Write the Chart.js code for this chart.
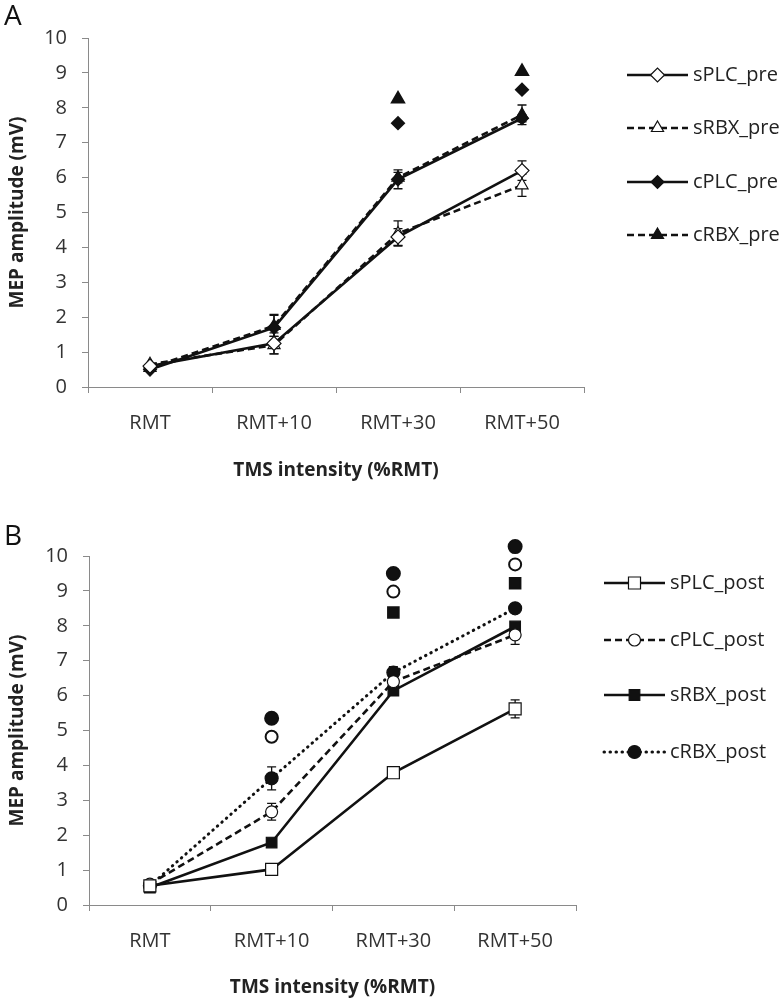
<!DOCTYPE html>
<html>
<head>
<meta charset="utf-8">
<script src="https://cdn.jsdelivr.net/npm/chart.js@4.4.1/dist/chart.umd.min.js"></script>
<style>
  body { margin: 0; background: #fff; width: 784px; height: 1003px; position: relative; overflow: hidden; font-family: "Open Sans", sans-serif; }
  .panel { position: absolute; left: 0; width: 784px; }
  #wrapA { top: 0; height: 500px; }
  #wrapB { top: 500px; height: 503px; }
  .tag { position: absolute; left: 4px; font-size: 28px; line-height: 1; color: #111; }
</style>
</head>
<body>
<div class="panel" id="wrapA">
  <div class="tag" style="top:0">A</div>
  <canvas id="chartA" width="784" height="500"></canvas>
</div>
<div class="panel" id="wrapB">
  <div class="tag" style="top:20px">B</div>
  <canvas id="chartB" width="784" height="503"></canvas>
</div>
<script>
// categories / ticks
const categories = ["RMT", "RMT+10", "RMT+30", "RMT+50"];
const yMin = 0, yMax = 10, yStep = 1;

// panel A - pre
const sPLC_pre = [0.6, 1.25, 4.3, 6.2];
const sPLC_pre_err = [0, 0.3, 0.24, 0.28];
const sRBX_pre = [0.65, 1.2, 4.4, 5.78];
const sRBX_pre_err = [0, 0.25, 0.36, 0.32];
const cPLC_pre = [0.5, 1.7, 5.95, 7.7];
const cPLC_pre_err = [0, 0.38, 0.27, 0.1];
const cRBX_pre = [0.55, 1.75, 6.0, 7.8];
const cRBX_pre_err = [0, 0.3, 0.15, 0.28];
// extra single markers in A
const cRBX_pre_marks = [null, null, 8.25, 9.04];
const cPLC_pre_marks = [null, null, 7.56, 8.52];

// panel B - post
const sPLC_post = [0.55, 1.02, 3.79, 5.62];
const sPLC_post_err = [0, 0, 0, 0.26];
const cPLC_post = [0.6, 2.67, 6.4, 7.74];
const cPLC_post_err = [0, 0.24, 0, 0.27];
const sRBX_post = [0.5, 1.79, 6.14, 7.98];
const sRBX_post_err = [0, 0, 0, 0];
const cRBX_post = [0.55, 3.63, 6.66, 8.5];
const cRBX_post_err = [0, 0.33, 0.17, 0];
// extra single markers in B
const cRBX_post_marks = [null, 5.35, 9.5, 10.27];
const cPLC_post_marks = [null, 4.82, 8.98, 9.76];
const sRBX_post_marks = [null, null, 8.38, 9.22];

const INK = "#111";

// error bars drawn under the markers
const errorBars = {
  id: "errorBars",
  beforeDatasetsDraw(chart) {
    const { ctx, scales: { x, y } } = chart;
    ctx.save();
    ctx.strokeStyle = INK;
    ctx.lineWidth = 1.3;
    chart.data.datasets.forEach((ds) => {
      if (!ds.err) return;
      ds.data.forEach((v, j) => {
        const e = ds.err[j];
        if (v == null || !e) return;
        const px = x.getPixelForValue(j);
        const top = y.getPixelForValue(v + e);
        const bot = y.getPixelForValue(v - e);
        ctx.beginPath();
        ctx.moveTo(px, top); ctx.lineTo(px, bot);
        ctx.moveTo(px - 4.5, top); ctx.lineTo(px + 4.5, top);
        ctx.moveTo(px - 4.5, bot); ctx.lineTo(px + 4.5, bot);
        ctx.stroke();
      });
    });
    ctx.restore();
  }
};

// chart.js skips points above the y max, draw those ones here
const overTop = {
  id: "overTop",
  afterDatasetsDraw(chart) {
    const ctx = chart.ctx;
    const top = chart.chartArea.top;
    chart.data.datasets.forEach((ds, i) => {
      chart.getDatasetMeta(i).data.forEach((pt) => {
        if (pt.skip || pt.y >= top) return;
        const o = pt.options;
        ctx.save();
        ctx.fillStyle = o.backgroundColor;
        ctx.strokeStyle = o.borderColor;
        ctx.lineWidth = o.borderWidth;
        Chart.helpers.drawPoint(ctx, o, pt.x, pt.y);
        ctx.restore();
      });
    });
  }
};

// excel-like legend: line - marker - line, then label
const sideLegend = {
  id: "sideLegend",
  afterDraw(chart, args, o) {
    const ctx = chart.ctx;
    let k = 0;
    chart.data.datasets.forEach((ds) => {
      if (ds.extra) return;
      const y = o.rows[k++];
      ctx.save();
      ctx.strokeStyle = INK;
      ctx.lineWidth = ds.borderWidth;
      ctx.setLineDash(ds.borderDash || []);
      ctx.lineCap = ds.borderCapStyle || "butt";
      ctx.beginPath();
      ctx.moveTo(o.x0, y);
      ctx.lineTo(o.x1, y);
      ctx.stroke();
      ctx.setLineDash([]);
      ctx.fillStyle = ds.pointBackgroundColor;
      ctx.strokeStyle = ds.pointBorderColor;
      ctx.lineWidth = ds.pointBorderWidth;
      Chart.helpers.drawPoint(ctx, {
        pointStyle: ds.pointStyle, radius: ds.pointRadius, rotation: 0, borderWidth: ds.pointBorderWidth
      }, (o.x0 + o.x1) / 2, y);
      ctx.fillStyle = "#222";
      ctx.font = '20px "Open Sans"';
      ctx.textBaseline = "middle";
      ctx.fillText(ds.label, o.textX, y);
      ctx.restore();
    });
  }
};

function series(label, data, err, style, dash, filled, radius) {
  const dotted = dash && dash[0] < 2;
  return {
    label, data, err,
    borderColor: INK,
    borderWidth: dotted ? 3 : 2.6,
    borderDash: dash,
    borderCapStyle: dotted ? "round" : "butt",
    tension: 0,
    pointStyle: style,
    pointRadius: radius,
    pointHoverRadius: radius,
    pointBackgroundColor: filled ? INK : "#fff",
    pointBorderColor: INK,
    pointBorderWidth: 1.2,
    clip: false
  };
}

function marks(data, style, filled, radius) {
  return {
    extra: true, data,
    showLine: false,
    pointStyle: style,
    pointRadius: radius,
    pointHoverRadius: radius,
    pointBackgroundColor: filled ? INK : "#fff",
    pointBorderColor: INK,
    pointBorderWidth: 2,
    clip: false
  };
}

function makeChart(id, datasets, lay) {
  new Chart(document.getElementById(id), {
    type: "line",
    data: { labels: categories, datasets },
    plugins: [errorBars, overTop, sideLegend],
    options: {
      responsive: false,
      animation: false,
      events: [],
      layout: { padding: { left: 0, top: lay.top, right: lay.right, bottom: 0 } },
      plugins: {
        legend: { display: false },
        tooltip: { enabled: false },
        sideLegend: lay.legend
      },
      scales: {
        x: {
          offset: true,
          grid: { offset: true, drawOnChartArea: false, drawTicks: true, tickLength: 6, color: "#8a8a8a" },
          border: { color: "#8a8a8a", width: 1 },
          ticks: { color: "#333", font: { family: "Open Sans", size: 20 }, padding: 18, maxRotation: 0 },
          title: {
            display: true, text: "TMS intensity (%RMT)", color: "#222",
            font: { family: "Open Sans", size: 19, weight: "bold" },
            padding: { top: 0, bottom: lay.titlePad }
          },
          afterFit: (s) => { s.height = lay.xHeight; }
        },
        y: {
          min: yMin, max: yMax,
          grid: { drawOnChartArea: false, drawTicks: true, tickLength: 6, color: "#8a8a8a" },
          border: { color: "#8a8a8a", width: 1 },
          ticks: { stepSize: yStep, color: "#333", font: { family: "Open Sans", size: 20 }, padding: 15 },
          title: {
            display: true, text: "MEP amplitude (mV)", color: "#222",
            font: { family: "Open Sans", size: 19, weight: "bold" },
            padding: { top: 6, bottom: 0 }
          },
          afterFit: (s) => { s.width = lay.yWidth; }
        }
      }
    }
  });
}

makeChart("chartA", [
  series("sPLC_pre", sPLC_pre, sPLC_pre_err, "rectRot", undefined, false, 7),
  series("sRBX_pre", sRBX_pre, sRBX_pre_err, "triangle", [7, 4], false, 7),
  series("cPLC_pre", cPLC_pre, cPLC_pre_err, "rectRot", undefined, true, 6.5),
  series("cRBX_pre", cRBX_pre, cRBX_pre_err, "triangle", [7, 4], true, 7),
  marks(cRBX_pre_marks, "triangle", true, 7),
  marks(cPLC_pre_marks, "rectRot", true, 6)
], {
  top: 38, right: 200, yWidth: 88, xHeight: 113, titlePad: 18,
  legend: { x0: 627, x1: 688, textX: 693, rows: [75, 128, 182, 235] }
});

makeChart("chartB", [
  series("sPLC_post", sPLC_post, sPLC_post_err, "rect", undefined, false, 8.5),
  series("cPLC_post", cPLC_post, cPLC_post_err, "circle", [7, 4], false, 6),
  series("sRBX_post", sRBX_post, sRBX_post_err, "rect", undefined, true, 7.5),
  series("cRBX_post", cRBX_post, cRBX_post_err, "circle", [0.5, 5.5], true, 6.5),
  marks(cRBX_post_marks, "circle", true, 6.5),
  marks(cPLC_post_marks, "circle", false, 6),
  marks(sRBX_post_marks, "rect", true, 7.5)
], {
  top: 56, right: 208, yWidth: 89, xHeight: 98, titlePad: 4,
  legend: { x0: 604, x1: 665, textX: 670, rows: [83, 140, 195, 252] }
});
</script>
</body>
</html>
